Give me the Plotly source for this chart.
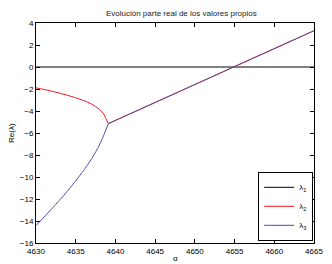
import plotly.graph_objects as go

alpha_full = [4630, 4665]
lam1 = [0, 0]

alpha_red = [4630, 4631, 4632, 4633, 4634, 4635, 4636, 4637, 4638, 4638.5, 4638.8, 4639.1]
lam2_pre = [-1.9, -2.04, -2.2, -2.38, -2.58, -2.8, -3.05, -3.37, -3.85, -4.25, -4.68, -5.15]
alpha_blue = [4630, 4631, 4632, 4633, 4634, 4635, 4636, 4637, 4637.8, 4638.3, 4638.7, 4639.1]
lam3_pre = [-14.4, -13.65, -12.88, -12.08, -11.25, -10.35, -9.4, -8.35, -7.35, -6.6, -5.9, -5.15]

alpha_post = [4639.1, 4665]
lam_post = [-5.15, 3.3]

font = "Liberation Sans, Arial, sans-serif"
RED = "#e8141e"
BLUE = "#4a4aa8"

fig = go.Figure()
fig.add_trace(go.Scatter(x=alpha_full, y=lam1, mode="lines", name="λ<sub>1</sub>",
                         line=dict(color="black", width=1)))
fig.add_trace(go.Scatter(x=alpha_red, y=lam2_pre, mode="lines", legendgroup="l2",
                         name="λ<sub>2</sub>", line=dict(color=RED, width=1, shape="spline", smoothing=0.3)))
fig.add_trace(go.Scatter(x=alpha_blue, y=lam3_pre, mode="lines", legendgroup="l3",
                         name="λ<sub>3</sub>", line=dict(color=BLUE, width=1, shape="spline", smoothing=0.3)))
fig.add_trace(go.Scatter(x=alpha_post, y=lam_post, mode="lines", legendgroup="l2", showlegend=False,
                         line=dict(color=RED, width=1)))
fig.add_trace(go.Scatter(x=alpha_post, y=lam_post, mode="lines", legendgroup="l3", showlegend=False,
                         line=dict(color=BLUE, width=1), opacity=0.85))

axis_common = dict(showgrid=False, zeroline=False, showline=True, linecolor="black",
                   linewidth=1, mirror="ticks", ticks="inside", ticklen=4, automargin=False,
                   tickcolor="black", tickfont=dict(size=8, color="black", family=font))

fig.update_layout(
    width=324, height=256,
    margin=dict(l=28, r=18, t=15, b=21),
    paper_bgcolor="white", plot_bgcolor="white",
    font=dict(family=font, size=8, color="black"),
    title=dict(text="Evolución parte real de los valores propios", x=0.535, xanchor="center",
               yref="container", y=1 - 5 / 256, yanchor="middle", font=dict(size=8, color="#222")),
    xaxis=dict(range=[4630, 4665], tickvals=[4630, 4635, 4640, 4645, 4650, 4655, 4660, 4665],
               **axis_common),
    yaxis=dict(range=[-16, 4], tickvals=list(range(-16, 5, 2)), **axis_common),
    annotations=[
        dict(text="Re(λ)", xref="paper", yref="paper", x=0, y=0.5, xanchor="center",
             yanchor="middle", xshift=-25, textangle=-90, showarrow=False, font=dict(size=8)),
        dict(text="α", xref="paper", yref="paper", x=0.5, y=0, xanchor="center",
             yanchor="middle", yshift=-15, showarrow=False, font=dict(size=8)),
    ],
    showlegend=True,
    legend=dict(x=0.997, y=0.01, xanchor="right", yanchor="bottom", bgcolor="white",
                bordercolor="black", borderwidth=1, font=dict(size=8),
                itemwidth=30, tracegroupgap=0),
)

fig.write_html("out.html")
